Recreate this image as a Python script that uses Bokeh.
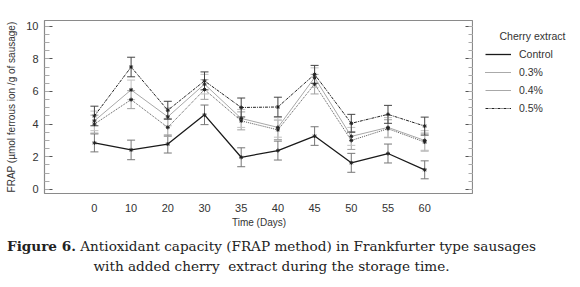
from bokeh.plotting import figure
from bokeh.models import (ColumnDataSource, Whisker, TeeHead, Legend, LegendItem,
                          FixedTicker, LinearAxis, Range1d, Div, Label)
from bokeh.layouts import column, row
from bokeh.embed import file_html
from bokeh.resources import INLINE

# ---- data ----
days = ["0", "10", "20", "30", "35", "40", "45", "50", "55", "60"]
control = [2.85, 2.42, 2.78, 4.57, 1.97, 2.38, 3.27, 1.63, 2.2, 1.2]
control_err = [0.55, 0.6, 0.55, 0.6, 0.58, 0.58, 0.57, 0.58, 0.58, 0.55]
p03 = [4.0, 5.5, 3.8, 6.12, 4.2, 3.65, 6.45, 3.0, 3.72, 2.9]
p03_err = [0.55, 0.55, 0.55, 0.6, 0.55, 0.6, 0.6, 0.55, 0.55, 0.55]
p04 = [4.2, 6.1, 4.45, 6.45, 4.35, 3.8, 6.85, 3.25, 3.8, 3.0]
p04_err = [0.6, 0.6, 0.55, 0.6, 0.55, 0.6, 0.6, 0.55, 0.6, 0.6]
p05 = [4.5, 7.5, 4.85, 6.65, 5.02, 5.05, 7.05, 4.05, 4.6, 3.88]
p05_err = [0.6, 0.6, 0.55, 0.55, 0.58, 0.6, 0.55, 0.55, 0.55, 0.55]
y_ticks = [0, 2, 4, 6, 8, 10]
legend_title = "Cherry extract"
caption_bold = "Figure 6."
caption_line1 = "Antioxidant capacity (FRAP method) in Frankfurter type sausages"
caption_line2 = "with added cherry&nbsp; extract during the storage time."

idx = list(range(len(days)))
FONT = "Liberation Sans"

p = figure(frame_width=429, frame_height=173, output_backend="svg", toolbar_location=None,
           x_range=Range1d(-1.36, 10.33), y_range=Range1d(-0.25, 10.35),
           min_border_left=44, min_border_right=0, min_border_top=20,
           min_border_bottom=39, background_fill_color="white",
           border_fill_color="white")
p.grid.visible = False
p.outline_line_color = "#8a8a8a"
p.outline_line_width = 1.2

# x axis
xa = p.xaxis[0]
xa.ticker = FixedTicker(ticks=idx)
xa.major_label_overrides = {i: d for i, d in zip(idx, days)}
xa.major_tick_line_color = None
xa.minor_tick_line_color = None
xa.axis_line_color = None
xa.major_label_text_font = FONT
xa.major_label_text_font_size = "11px"
xa.major_label_text_color = "#333333"
xa.major_label_standoff = 4
xa.axis_label = "Time (Days)"
xa.axis_label_text_font = FONT
xa.axis_label_text_font_size = "10px"
xa.axis_label_text_font_style = "normal"
xa.axis_label_text_color = "#333333"
xa.axis_label_standoff = 2

# y axis
minor = [x * 0.5 for x in range(0, 21)]
ya = p.yaxis[0]
ya.ticker = FixedTicker(ticks=y_ticks, minor_ticks=minor)
ya.axis_line_color = None
ya.major_tick_in = 8
ya.major_tick_out = 0
ya.minor_tick_in = 5
ya.minor_tick_out = 0
ya.major_tick_line_color = "#555555"
ya.minor_tick_line_color = "#aaaaaa"
ya.major_label_text_font = FONT
ya.major_label_text_font_size = "11px"
ya.major_label_text_color = "#333333"
ya.major_label_standoff = 6
ya.axis_label = "FRAP (µmol ferrous ion /g of sausage)"
ya.axis_label_text_font = FONT
ya.axis_label_text_font_size = "10px"
ya.axis_label_text_font_style = "normal"
ya.axis_label_text_color = "#333333"
ya.axis_label_standoff = 6

ra = LinearAxis(ticker=FixedTicker(ticks=y_ticks, minor_ticks=minor),
                axis_line_color=None, major_tick_in=8, major_tick_out=0,
                minor_tick_in=5, minor_tick_out=0,
                major_tick_line_color="#555555", minor_tick_line_color="#aaaaaa",
                major_label_text_color=None, major_label_text_font_size="1px",
                major_label_standoff=0)
p.add_layout(ra, "right")

series = [
    ("Control", control, control_err, "#1a1a1a", None, 1.3, "#777777"),
    ("0.3%", p03, p03_err, "#555555", "1 1", 1.0, "#a0a0a0"),
    ("0.4%", p04, p04_err, "#a8a8a8", None, 1.0, "#c0c0c0"),
    ("0.5%", p05, p05_err, "#222222", "3 1 1 1", 1.0, "#444444"),
]

# legend panel (a separate frame so the legend is not clipped)
pl = figure(width=104, height=232, output_backend="svg", toolbar_location=None,
            x_range=Range1d(0, 104), y_range=Range1d(0, 232),
            x_axis_location=None, y_axis_location=None,
            min_border=0, border_fill_color="white")
pl.grid.visible = False
pl.outline_line_color = None
pl.extra_y_ranges = {"off": Range1d(1000, 1001)}

items = []
for name, vals, err, col, dash, lw, ecol in series:
    src = ColumnDataSource(dict(x=idx, y=vals,
                                lo=[v - e for v, e in zip(vals, err)],
                                hi=[v + e for v, e in zip(vals, err)]))
    w = Whisker(source=src, base="x", upper="hi", lower="lo",
                line_color=ecol, line_width=1.0,
                upper_head=TeeHead(size=8, line_color=ecol, line_width=1.0),
                lower_head=TeeHead(size=8, line_color=ecol, line_width=1.0))
    p.add_layout(w)
    kw = dict(line_color=col, line_width=lw)
    if dash:
        kw["line_dash"] = dash
    p.line("x", "y", source=src, **kw)
    p.scatter("x", "y", source=src, marker="asterisk", size=4, line_color="#222222",
              line_width=1.0)
    rl = pl.line("x", "y", source=src, y_range_name="off", **kw)
    items.append(LegendItem(label=name, renderers=[rl]))

legend = Legend(items=items, location=(12, 78),
                label_text_font=FONT, label_text_font_size="10.5px",
                label_text_color="#333333",
                glyph_width=26, glyph_height=14, label_height=14, spacing=4,
                label_standoff=8, padding=4, margin=0,
                border_line_color=None, background_fill_alpha=0)
pl.add_layout(legend)
pl.add_layout(Label(x=26, y=211, text=legend_title, text_font=FONT,
                    text_font_size="10.5px", text_color="#333333",
                    text_baseline="middle"))

cap = Div(text=(f"<b>{caption_bold}</b> {caption_line1}<br>{caption_line2}"),
          width=543, height=55, margin=(0, 0, 0, 0),
          styles={"font-family": "'DejaVu Serif', serif", "font-size": "13.6px",
                  "line-height": "20px", "text-align": "center", "color": "#222222",
                  "padding-top": "4px", "white-space": "nowrap"})

layout = column(row(p, pl, spacing=0), cap, spacing=0)
open("out.html", "w").write(file_html(layout, INLINE))
